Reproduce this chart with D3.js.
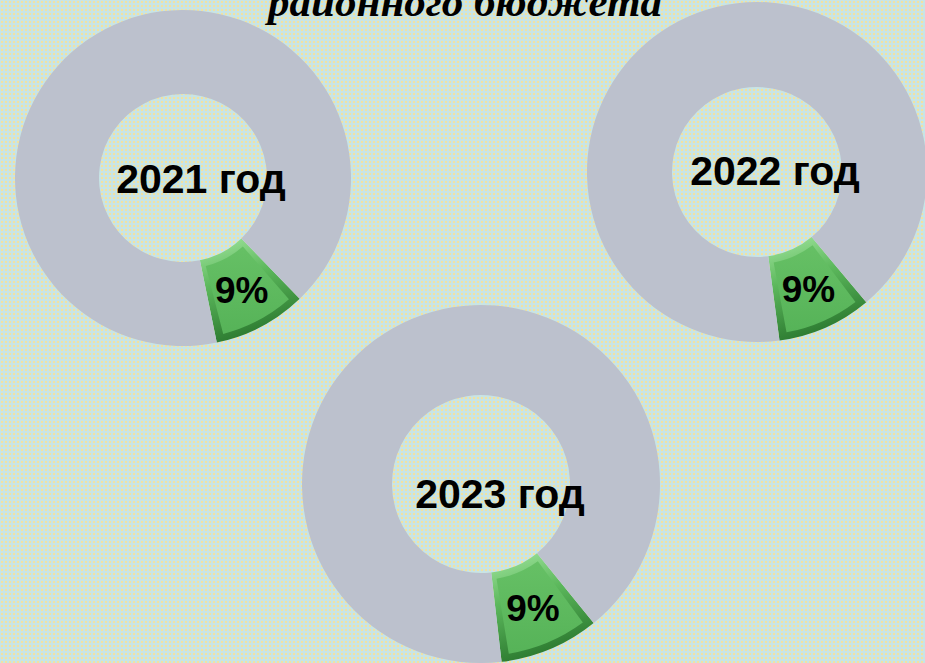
<!DOCTYPE html>
<html>
<head>
<meta charset="utf-8">
<script src="https://cdn.jsdelivr.net/npm/d3@7"></script>
<style>
  html, body { margin: 0; padding: 0; overflow: hidden; }
  svg { display: block; }
</style>
</head>
<body>
<svg id="chart" width="925" height="663"></svg>
<script>
// chart data
var years = ["2021 год", "2022 год", "2023 год"];
var shares = [9, 9, 9];          // share of the district budget, %
var shareLabels = ["9%", "9%", "9%"];
var title = "районного бюджета";

// layout (kept apart from the data)
var layout = [
  { cx: 183, cy: 178, outer: 168, inner: 84, start: 136, tx: 18, ty: 15 },
  { cx: 757, cy: 172, outer: 170, inner: 85, start: 140, tx: 18, ty: 13 },
  { cx: 481, cy: 484, outer: 179, inner: 89, start: 141, tx: 19, ty: 24 }
];

var svg = d3.select("#chart"),
    width = +svg.attr("width"),
    height = +svg.attr("height");

var defs = svg.append("defs");

// dotted backdrop
var pat = defs.append("pattern")
    .attr("id", "dots")
    .attr("width", 4).attr("height", 4)
    .attr("patternUnits", "userSpaceOnUse");
pat.append("rect").attr("width", 4).attr("height", 4).attr("fill", "#c6e5e8");
pat.append("circle").attr("cx", 2).attr("cy", 2).attr("r", 1.2).attr("fill", "#f3e2a0");

// green bevel gradients
var g1 = defs.append("linearGradient").attr("id", "greenEdge")
    .attr("x1", 0).attr("y1", 0).attr("x2", 0.3).attr("y2", 1);
g1.append("stop").attr("offset", "0%").attr("stop-color", "#a3e6a0");
g1.append("stop").attr("offset", "45%").attr("stop-color", "#5cb85c");
g1.append("stop").attr("offset", "100%").attr("stop-color", "#2c7a30");

var g2 = defs.append("linearGradient").attr("id", "greenFace")
    .attr("x1", 0).attr("y1", 0).attr("x2", 0).attr("y2", 1);
g2.append("stop").attr("offset", "0%").attr("stop-color", "#66c065");
g2.append("stop").attr("offset", "100%").attr("stop-color", "#56b358");

svg.append("rect")
    .attr("width", width)
    .attr("height", height)
    .attr("fill", "url(#dots)");

// title, mostly cut off by the top edge (as in the original slide)
svg.append("text")
    .attr("x", 465)
    .attr("y", 16)
    .attr("text-anchor", "middle")
    .style("font-family", "'Liberation Serif', 'Times New Roman', serif")
    .style("font-weight", "bold")
    .style("font-style", "italic")
    .style("font-size", "43px")
    .attr("fill", "#000")
    .text(title);

var toRad = Math.PI / 180;

years.forEach(function(year, i) {
    var L = layout[i];
    var data = [
        { key: "share", value: shares[i] },
        { key: "rest", value: 100 - shares[i] }
    ];

    var pie = d3.pie()
        .sort(null)
        .value(function(d) { return d.value; })
        .startAngle(L.start * toRad)
        .endAngle(L.start * toRad + 2 * Math.PI);

    var arc = d3.arc().innerRadius(L.inner).outerRadius(L.outer);

    var g = svg.append("g")
        .attr("transform", "translate(" + L.cx + "," + L.cy + ")");

    var slices = pie(data);

    g.selectAll("path.slice")
        .data(slices)
        .enter().append("path")
        .attr("class", "slice")
        .attr("d", arc)
        .attr("fill", function(d) { return d.data.key == "share" ? "url(#greenEdge)" : "#bcc1cd"; });

    // inner face of the bevelled green slice
    var s = slices[0];
    var inset = 7;
    var midR = (L.inner + L.outer) / 2;
    var face = d3.arc()
        .innerRadius(L.inner + inset)
        .outerRadius(L.outer - inset)
        .startAngle(s.startAngle + inset / midR * 0.9)
        .endAngle(s.endAngle - inset / midR * 0.9);

    g.append("path")
        .attr("d", face())
        .attr("fill", "url(#greenFace)");

    var c = arc.centroid(s);
    g.append("text")
        .attr("x", c[0])
        .attr("y", c[1])
        .attr("dy", "0.36em")
        .attr("text-anchor", "middle")
        .style("font-family", "'Liberation Sans', Arial, sans-serif")
        .style("font-weight", "bold")
        .style("font-size", "37px")
        .attr("fill", "#000")
        .text(shareLabels[i]);

    g.append("text")
        .attr("x", L.tx)
        .attr("y", L.ty)
        .attr("text-anchor", "middle")
        .style("font-family", "'Liberation Sans', Arial, sans-serif")
        .style("font-weight", "bold")
        .style("font-size", "41px")
        .attr("fill", "#000")
        .text(year);
});
</script>
</body>
</html>
